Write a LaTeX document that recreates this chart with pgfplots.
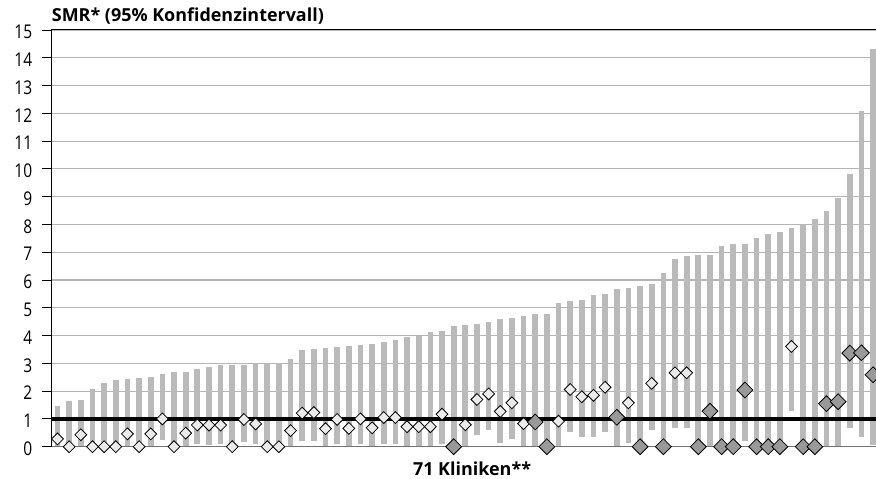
\documentclass[border=0pt]{standalone}
\usepackage{fontspec}
\setmainfont{Open Sans}
\newfontfamily\condfont[FakeStretch=0.82]{Open Sans}
\usepackage{pgfplots}
\pgfplotsset{compat=1.18}
\usepackage{pgfplotstable}

\definecolor{barc}{HTML}{BABABA}
\definecolor{gridc}{HTML}{B4B4B4}
\definecolor{lightd}{HTML}{EBEBEB}
\definecolor{darkd}{HTML}{999999}

% confidence intervals per clinic: index, lower, upper
\pgfplotstableread{
i lo hi
1 0.03 1.47
2 0 1.65
3 0.03 1.67
4 0 2.09
5 0 2.28
6 0 2.39
7 0.02 2.44
8 0 2.48
9 0.02 2.52
10 0.24 2.60
11 0 2.68
12 0.01 2.69
13 0.09 2.78
14 0.06 2.88
15 0.08 2.93
16 0 2.95
17 0.18 2.95
18 0.08 2.97
19 0 2.99
20 0 3.00
21 0.02 3.16
22 0.21 3.48
23 0.21 3.52
24 0.01 3.56
25 0.08 3.60
26 0.01 3.62
27 0.08 3.66
28 0.01 3.71
29 0.09 3.78
30 0.10 3.83
31 0.01 3.96
32 0.01 3.99
33 0.01 4.12
34 0.11 4.17
35 0 4.35
36 0.01 4.37
37 0.42 4.41
38 0.59 4.50
39 0.13 4.60
40 0.28 4.63
41 0.01 4.70
42 0.01 4.76
43 0 4.77
44 0.01 5.18
45 0.54 5.26
46 0.34 5.28
47 0.35 5.46
48 0.54 5.49
49 0.01 5.66
50 0.15 5.73
51 0 5.78
52 0.60 5.86
53 0 6.24
54 0.68 6.75
55 0.68 6.86
56 0 6.89
57 0.01 6.89
58 0 7.22
59 0 7.31
60 0.22 7.31
61 0 7.52
62 0 7.67
63 0 7.72
64 1.28 7.87
65 0 8.03
66 0 8.21
67 0.01 8.48
68 0.01 8.96
69 0.66 9.80
70 0.36 12.07
71 0.05 14.33
}\bars

% SMR, not significant (light diamonds)
\pgfplotstableread{
i s
1 0.28
2 0
3 0.43
4 0
5 0
6 0
7 0.46
8 0
9 0.46
10 1.00
11 0
12 0.49
13 0.78
14 0.78
15 0.78
16 0
17 0.98
18 0.82
19 0
20 0
21 0.58
22 1.21
23 1.23
24 0.65
25 0.98
26 0.66
27 1.00
28 0.68
29 1.05
30 1.05
31 0.72
32 0.72
33 0.72
34 1.17
36 0.79
37 1.70
38 1.90
39 1.27
40 1.58
41 0.83
44 0.92
45 2.06
46 1.80
47 1.85
48 2.14
50 1.58
52 2.28
54 2.66
55 2.66
64 3.61
}\wdata

% SMR, dark diamonds
\pgfplotstableread{
i s
35 0
42 0.89
43 0
49 1.06
51 0
53 0
56 0
57 1.28
58 0
59 0
60 2.04
61 0
62 0
63 0
65 0
66 0
67 1.55
68 1.62
69 3.37
70 3.38
71 2.59
}\gdata

\begin{document}
\begin{tikzpicture}
\begin{axis}[
  scale only axis, width=824.3bp, height=416.7bp,
  xmin=0.5, xmax=71.25, ymin=0, ymax=15,
  ytick={0,1,...,15}, xtick=\empty,
  axis line style={draw=none},
  ymajorgrids, grid style={gridc, line width=1.1bp},
  tick align=outside, tick pos=left, major tick length=10bp,
  y tick style={black, line width=0.9bp},
  /pgf/number format/assume math mode=true,
  yticklabel style={font=\condfont\fontsize{19}{19}\selectfont, xshift=-6bp, yshift=-2bp},
  clip=false,
]
\coordinate (O) at (rel axis cs:0,0);
\addplot[draw=none, mark=none, forget plot,
  error bars/.cd, y dir=plus, y explicit, error mark=none,
  error bar style={draw=barc, line width=5.7bp}]
  table[x=i, y=lo, y error expr=\thisrow{hi}-\thisrow{lo}] {\bars};
\addplot[black, line width=3.3bp, forget plot] coordinates {(0.5,1) (71.25,1)};
\addplot[only marks, mark=square*, mark size=4.2bp,
  mark options={rotate=45, fill=lightd, draw=black, line width=0.8bp}]
  table[x=i, y=s] {\wdata};
\addplot[only marks, mark=square*, mark size=5.6bp,
  mark options={rotate=45, fill=darkd, draw=black, line width=0.8bp}]
  table[x=i, y=s] {\gdata};
\draw[black!55, line width=1bp] (rel axis cs:0,0) -- (rel axis cs:1,0);
\draw[black, line width=1bp] (rel axis cs:0,0) -- (rel axis cs:0,1) -- (rel axis cs:1,1);
\node[anchor=base west, inner sep=0pt, font=\bfseries\fontsize{18}{18}\selectfont]
  at ([yshift=8bp]rel axis cs:0,1) {SMR* (95\% Konfidenzintervall)};
\node[anchor=base, inner sep=0pt, font=\bfseries\fontsize{18}{18}\selectfont]
  at ([yshift=-29.3bp]rel axis cs:0.51,0) {71 Kliniken**};
\end{axis}
\pgfresetboundingbox
\path ([shift={(-51.7bp,-32.3bp)}]O) rectangle ++(876bp,479bp);
\end{tikzpicture}
\end{document}
